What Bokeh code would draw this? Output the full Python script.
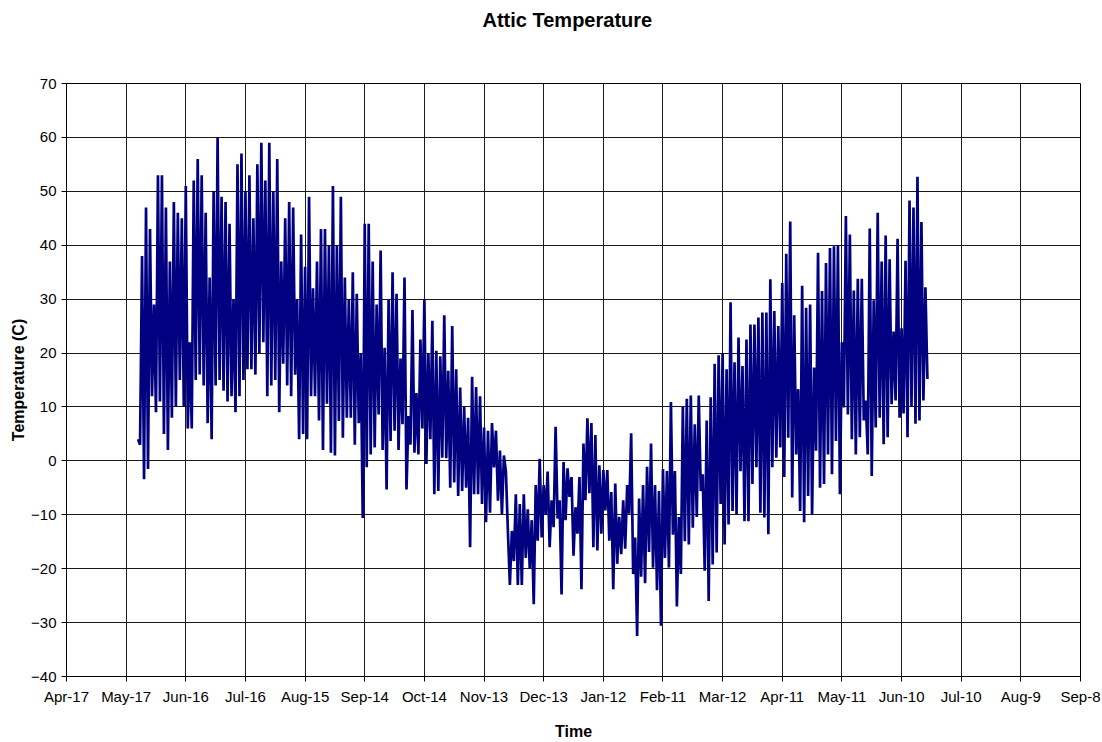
from datetime import date
from bokeh.plotting import figure
from bokeh.models import FixedTicker, Range1d, Title
from bokeh.embed import file_html
from bokeh.resources import INLINE

# ---- data ----
chart_title = "Attic Temperature"
tick_labels = ["Apr-17", "May-17", "Jun-16", "Jul-16", "Aug-15", "Sep-14", "Oct-14",
               "Nov-13", "Dec-13", "Jan-12", "Feb-11", "Mar-12", "Apr-11", "May-11",
               "Jun-10", "Jul-10", "Aug-9", "Sep-8"]
axis_origin = date(2007, 4, 17)
first_reading = date(2007, 5, 23)
tick_step_days = 30

# alternating high / low readings, one value per day
high_readings = [
    4, 38, 47, 43, 29, 53, 53, 47, 37, 48, 46, 45, 51, 22, 52, 56, 53, 46, 34, 50,
    60, 49, 48, 44, 30, 55, 57, 50, 53, 45, 55, 59, 52, 59, 50, 56, 37, 45, 48, 47,
    30, 42, 36, 49, 32, 37, 43, 43, 40, 51, 40, 49, 34, 30, 35, 31, 20, 44, 44, 37,
    29, 39, 21, 30, 35, 31, 19, 34, 8.3, 28, 12.6, 22.5, 30, 20, 26, 20.4, 19.4, 27, 16.7, 25,
    17, 13.6, 10, 8, 15.6, 13.7, 12, 6.2, 5.6, 7, 5.6, 1.9, 1, -13, -13, -6.2, -8, -6.2, -9, -11,
    -4.5, 0.4, -4.5, -2, -7.3, 6.3, -7.3, -0.2, -1.4, -3, -8.6, -3, 3.2, 7.9, 7, 4.8, -0.8, -1.7, -1.7, -5.8,
    -4.2, -10.4, -7.3, -4.5, 5.1, -14.2, -7, -4.5, -1.1, 3.2, -4.5, -5.6, -1.5, -1.9, 10.9, -1.9, -10.4, 10, 11.5, 12.1,
    6.8, 12.1, -2.5, 7.5, 11.8, 18, 19.6, 20, 17, 29.4, 18.3, 22.9, 17.6, 22.5, 25.3, 25.3, 26.6, 27.5, 27.5, 33.7,
    27.8, 25, 33, 38.4, 44.4, 27, 13.3, 32.5, 28.4, 29, 17.3, 38.6, 31.5, 36.7, 39.5, 39.8, 40, 22, 45.4, 42,
    31.6, 33.8, 33.8, 11.2, 43.1, 29.8, 46, 37, 41.8, 37.4, 24, 41.2, 24.6, 37.1, 48.3, 47, 52.7, 44.3, 32.2,
]
low_readings = [
    3, -3.4, -1.5, 12, 9, 11, 5, 2, 8, 10, 15, 10, 6, 6, 15, 16, 14, 7, 4, 14,
    15, 13, 11, 12, 9, 12, 15, 17, 17, 16, 20, 22, 12, 14, 15, 9, 18, 14, 12, 16,
    4, 5, 4, 12, 12, 7.5, 2, 10.6, 1.5, 1, 7.4, 4.3, 8, 8, 3, 7, -10.6, -1.2, 1.2, 2.5,
    8.6, 2, -5.3, 3.7, 5.6, 2, 6.8, -5.3, 3, 1.5, 1.2, 6, -0.6, 4, -6.2, -5.6, 0.6, 0.5, -5, -4,
    -6.5, -5.6, -5, -16, -6.2, -6.2, -8, -11.4, -9.6, -1.2, -7.4, -9.9, -2, -23, -18.6, -23, -23, -18, -20, -26.6,
    -14.8, -14.2, -10, -16, -12.3, -10.7, -24.8, -11, -6.7, -17.6, -13.5, -23.8, -7.3, -6, -16, -16.6, -13.5, -9.2, -14.8, -23.8,
    -19.1, -17.3, -16.3, -9.8, -21, -32.5, -21.5, -22.7, -16.9, -19.8, -24, -30.6, -18, -19.8, -13.7, -27, -21, -14.9, -15.5, -12.4,
    -10.4, -5.6, -20.4, -26, -19.2, -17, -8, -15.5, -11.8, -9.3, -9.9, -1.9, -11.2, -11.2, -4.3, -1.2, -9.6, -10.5, -13.6, -1.2,
    0.6, 2.5, -3, 4.3, -6.8, 1.2, -9.3, -11.4, -6.5, -9.9, 1.9, -5, -4.3, 1.2, -2.5, 3.7, -6.2, 9.9, 8.6, 4,
    1.2, 4.4, 7.5, 1.2, -2.8, 6.2, 8, 3.1, 4.4, 10.5, 11.2, 8, 8.8, 4.4, 10, 6.9, 7.5, 11.2, 15.2,
]

# ---- build the series (days since the axis origin) ----
start = (first_reading - axis_origin).days
xs, ys = [], []
for i, (hi, lo) in enumerate(zip(high_readings, low_readings)):
    xs += [start + 2 * i, start + 2 * i + 1]
    ys += [hi, lo]

ticks = [tick_step_days * k for k in range(len(tick_labels))]
yticks = list(range(-40, 71, 10))

FONT = "Liberation Sans"
p = figure(width=1102, height=742, output_backend="svg", toolbar_location=None,
           x_range=Range1d(ticks[0], ticks[-1]), y_range=Range1d(yticks[0], yticks[-1]),
           min_border_left=66, min_border_right=22, min_border_top=83, min_border_bottom=66,
           title=chart_title)
p.background_fill_color = "white"
p.border_fill_color = "white"
p.outline_line_color = "#000000"
p.outline_line_width = 1

p.title.align = "left"
p.title.offset = 416
p.title.text_font = FONT
p.title.text_font_size = "20px"
p.title.text_font_style = "bold"
p.title.text_color = "#000000"
p.title.standoff = 13
# empty spacer between the title and the plot frame
p.add_layout(Title(text=" ", text_font_size="2px", standoff=42), "above")

p.line(xs, ys, line_color="#000080", line_width=2.7)

# x axis
p.xaxis.ticker = FixedTicker(ticks=ticks)
p.xaxis.major_label_overrides = {t: lab for t, lab in zip(ticks, tick_labels)}
p.xaxis.axis_label = "Time"
# y axis
p.yaxis.ticker = FixedTicker(ticks=yticks)
p.yaxis.axis_label = "Temperature (C)"

for ax in (p.xaxis, p.yaxis):
    ax.axis_line_color = "#000000"
    ax.major_tick_line_color = "#000000"
    ax.major_tick_out = 5
    ax.major_tick_in = 0
    ax.minor_tick_line_color = None
    ax.major_label_text_font = FONT
    ax.major_label_text_font_size = "15px"
    ax.major_label_text_color = "#000000"
    ax.axis_label_text_font = FONT
    ax.axis_label_text_font_size = "16px"
    ax.axis_label_text_font_style = "bold"
    ax.axis_label_text_color = "#000000"
p.xaxis.major_label_standoff = 6
p.xaxis.axis_label_standoff = 15
p.yaxis.major_label_standoff = 5
p.yaxis.axis_label_standoff = 1

p.xgrid.ticker = FixedTicker(ticks=ticks)
p.ygrid.ticker = FixedTicker(ticks=yticks)
for g in (p.xgrid, p.ygrid):
    g.grid_line_color = "#1a1a1a"
    g.grid_line_width = 1

open("out.html", "w").write(file_html(p, INLINE))
